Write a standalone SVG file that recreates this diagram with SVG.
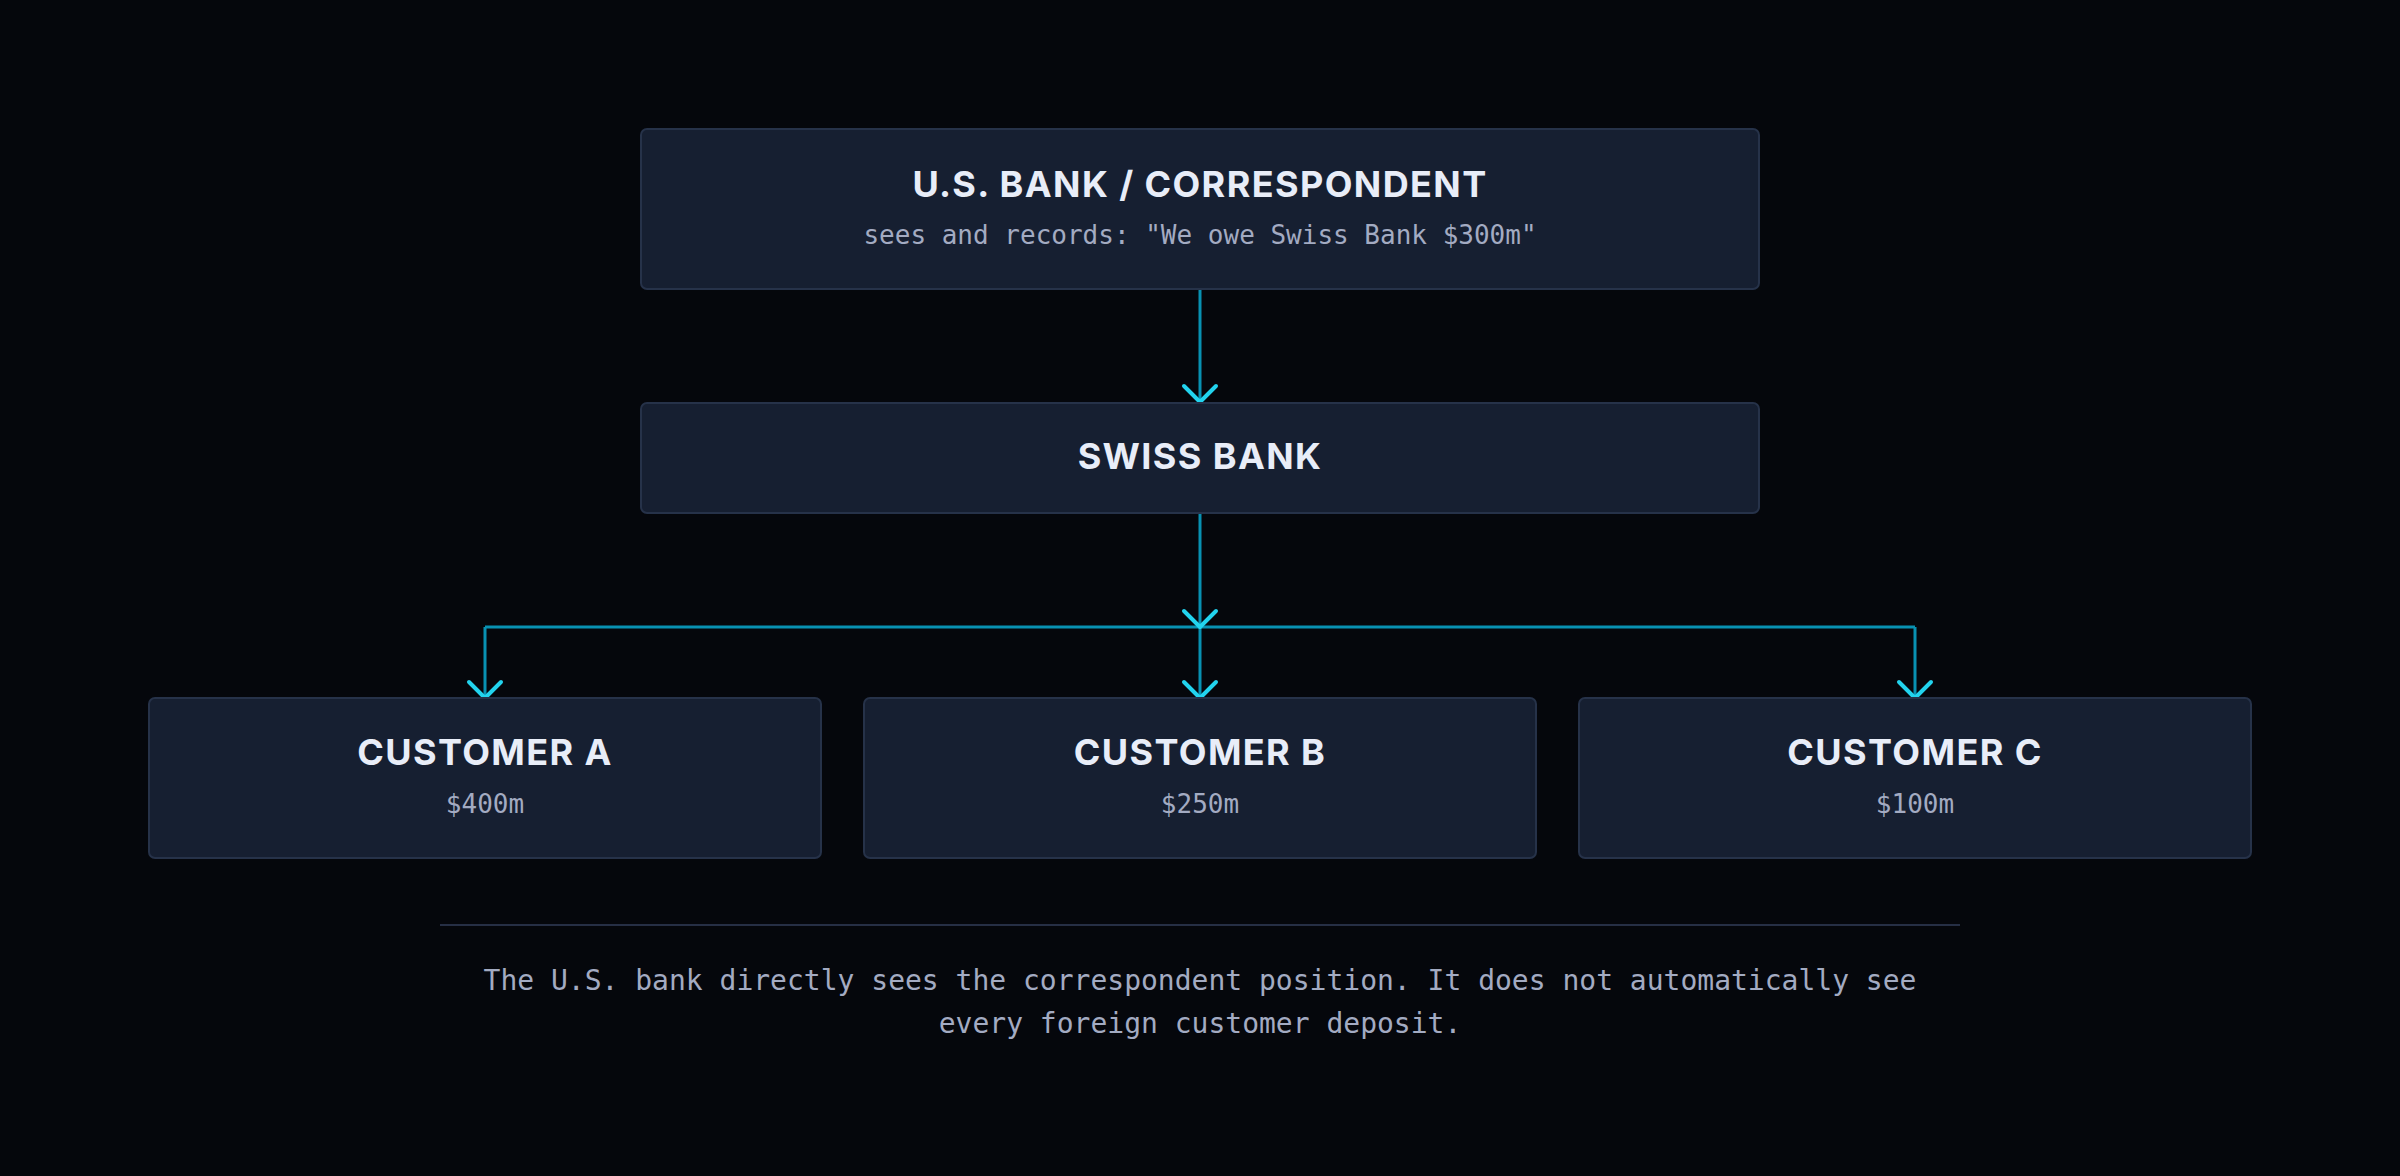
<svg xmlns="http://www.w3.org/2000/svg" width="2400" height="1176" viewBox="0 0 2400 1176">
<defs>
<style>
.box{fill:#161f31;stroke:#263249;stroke-width:2}
.title{font-family:Inter,"Noto Sans","DejaVu Sans",sans-serif;font-weight:700;font-size:36px;fill:#e8edf8;text-anchor:middle;letter-spacing:1.4px}
.sub{font-family:"DejaVu Sans Mono","Liberation Mono",monospace;font-size:26px;fill:#a3abc2;text-anchor:middle}
.note{font-family:"DejaVu Sans Mono","Liberation Mono",monospace;font-size:28px;fill:#a3abc2;text-anchor:middle}
.wire{fill:none;stroke:#0891b2;stroke-width:3}
.head{fill:none;stroke:#22d3ee;stroke-width:4;stroke-linecap:round;stroke-linejoin:round}
</style>
</defs>
<rect width="2400" height="1176" fill="#05070c"/>
<g id="connectors">
<path class="wire" d="M1200 289 V400"/>
<path class="wire" d="M1200 513 V625"/>
<path class="wire" d="M485 627 H1915"/>
<path class="wire" d="M485 627 V696"/>
<path class="wire" d="M1200 627 V696"/>
<path class="wire" d="M1915 627 V696"/>
<path class="head" d="M1184 386 L1200 402 L1216 386"/>
<path class="head" d="M1184 611 L1200 627 L1216 611"/>
<path class="head" d="M469 682 L485 698 L501 682"/>
<path class="head" d="M1184 682 L1200 698 L1216 682"/>
<path class="head" d="M1899 682 L1915 698 L1931 682"/>
</g>
<g id="us-bank">
<rect class="box" x="641" y="129" width="1118" height="160" rx="6"/>
<text class="title" x="1200" y="197">U.S. BANK / CORRESPONDENT</text>
<text class="sub" x="1200" y="244">sees and records: "We owe Swiss Bank $300m"</text>
</g>
<g id="swiss-bank">
<rect class="box" x="641" y="403" width="1118" height="110" rx="6"/>
<text class="title" x="1200" y="469">SWISS BANK</text>
</g>
<g id="customer-a">
<rect class="box" x="149" y="698" width="672" height="160" rx="6"/>
<text class="title" x="485" y="765">CUSTOMER A</text>
<text class="sub" x="485" y="813">$400m</text>
</g>
<g id="customer-b">
<rect class="box" x="864" y="698" width="672" height="160" rx="6"/>
<text class="title" x="1200" y="765">CUSTOMER B</text>
<text class="sub" x="1200" y="813">$250m</text>
</g>
<g id="customer-c">
<rect class="box" x="1579" y="698" width="672" height="160" rx="6"/>
<text class="title" x="1915" y="765">CUSTOMER C</text>
<text class="sub" x="1915" y="813">$100m</text>
</g>
<g id="footer">
<line x1="440" y1="925" x2="1960" y2="925" stroke="#262f45" stroke-width="2"/>
<text class="note" x="1200" y="990">The U.S. bank directly sees the correspondent position. It does not automatically see</text>
<text class="note" x="1200" y="1033">every foreign customer deposit.</text>
</g>
</svg>
